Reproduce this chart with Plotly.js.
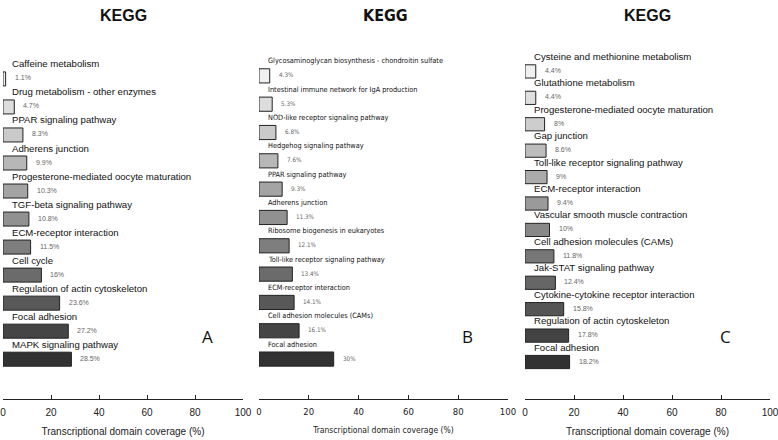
<!DOCTYPE html>
<html>
<head>
<meta charset="utf-8">
<script src="https://cdn.plot.ly/plotly-3.0.1.min.js"></script>
<style>html,body{margin:0;padding:0;background:#fff;}#chart{width:778px;height:440px;}</style>
</head>
<body>
<div id="chart"></div>
<script>
// ---- Data ----
const pathwaysA = ["Caffeine metabolism","Drug metabolism - other enzymes","PPAR signaling pathway","Adherens junction","Progesterone-mediated oocyte maturation","TGF-beta signaling pathway","ECM-receptor interaction","Cell cycle","Regulation of actin cytoskeleton","Focal adhesion","MAPK signaling pathway"];
const coverageA = [1.1, 4.7, 8.3, 9.9, 10.3, 10.8, 11.5, 16, 23.6, 27.2, 28.5];

const pathwaysB = ["Glycosaminoglycan biosynthesis - chondroitin sulfate","Intestinal immune network for IgA production","NOD-like receptor signaling pathway","Hedgehog signaling pathway","PPAR signaling pathway","Adherens junction","Ribosome biogenesis in eukaryotes","Toll-like receptor signaling pathway","ECM-receptor interaction","Cell adhesion molecules (CAMs)","Focal adhesion"];
const coverageB = [4.3, 5.3, 6.8, 7.6, 9.3, 11.3, 12.1, 13.4, 14.1, 16.1, 30];

const pathwaysC = ["Cysteine and methionine metabolism","Glutathione metabolism","Progesterone-mediated oocyte maturation","Gap junction","Toll-like receptor signaling pathway","ECM-receptor interaction","Vascular smooth muscle contraction","Cell adhesion molecules (CAMs)","Jak-STAT signaling pathway","Cytokine-cytokine receptor interaction","Regulation of actin cytoskeleton","Focal adhesion"];
const coverageC = [4.4, 4.4, 8, 8.6, 9, 9.4, 10, 11.8, 12.4, 15.8, 17.8, 18.2];

const panelLetters = ["A", "B", "C"];
const panelTitle = "KEGG";
const axisTitle = "Transcriptional domain coverage (%)";
const tickVals = [0, 20, 40, 60, 80, 100];

// ---- Styles ----
const W = 778, H = 440;
const SANS = "Liberation Sans, Arial, sans-serif";
const NARROW = "DejaVu Sans Condensed, Liberation Sans Narrow, Arial Narrow, sans-serif";
const panels = [
  {names: pathwaysA, vals: coverageA, px: [3, 243], yr: [-1.42, 11.21], font: SANS, lab: 9.6, pct: 7, tick: 10, ttl: 10, titleX: 123, letterX: 208},
  {names: pathwaysB, vals: coverageB, px: [259, 508], yr: [-1.41, 11.09], font: NARROW, lab: 7.3, pct: 6.3, tick: 9.5, ttl: 8.5, titleX: 385, letterX: 468},
  {names: pathwaysC, vals: coverageC, px: [525, 770], yr: [-1.40, 12.0], font: SANS, lab: 9.6, pct: 7, tick: 10, ttl: 10, titleX: 647, letterX: 725}
];

function grey(i, n) {
  const v = Math.round(240 - (240 - 50) * (i / (n - 1)));
  return `rgb(${v},${v},${v})`;
}

const traces = [];
const annotations = [];
const layout = {
  width: W, height: H,
  margin: {l: 0, r: 0, t: 45, b: 41},
  paper_bgcolor: "#fff", plot_bgcolor: "#fff",
  showlegend: false
};
const plotTop = layout.margin.t, plotH = H - layout.margin.t - layout.margin.b;
const paperY = px => 1 - (px - plotTop) / plotH;

panels.forEach((p, k) => {
  const n = p.names.length;
  const sfx = k === 0 ? "" : String(k + 1);
  const pos = p.names.map((_, i) => n - 1 - i);
  traces.push({
    type: "bar", orientation: "h",
    x: p.vals, y: pos,
    xaxis: "x" + sfx, yaxis: "y" + sfx,
    width: 0.5,
    marker: {color: p.names.map((_, i) => grey(i, n)), line: {color: "#222", width: 1}},
    hoverinfo: "skip"
  });
  layout["xaxis" + sfx] = {
    domain: [p.px[0] / W, p.px[1] / W],
    anchor: "y" + sfx,
    range: [0, 100],
    tickvals: tickVals, ticktext: tickVals.map(String),
    ticks: "inside", ticklen: 4, tickcolor: "#222",
    ticklabeloverflow: "allow", ticklabelstandoff: 4,
    showline: true, linecolor: "#222", linewidth: 1,
    showgrid: false, zeroline: false,
    tickfont: {family: p.font, size: p.tick, color: "#222"},
    title: {text: axisTitle, font: {family: p.font, size: p.ttl, color: "#222"}, standoff: 10}
  };
  layout["yaxis" + sfx] = {
    anchor: "x" + sfx,
    range: p.yr, visible: false, fixedrange: true
  };
  p.names.forEach((name, i) => {
    annotations.push({
      xref: "x" + sfx, yref: "y" + sfx, x: 0, y: pos[i],
      xshift: 7, yshift: 15, xanchor: "left", yanchor: "middle",
      text: name, showarrow: false,
      font: {family: p.font, size: p.lab, color: "#111"}
    });
    annotations.push({
      xref: "x" + sfx, yref: "y" + sfx, x: p.vals[i], y: pos[i],
      xshift: 7, yshift: 1, xanchor: "left", yanchor: "middle",
      text: p.vals[i] + "%", showarrow: false,
      font: {family: p.font, size: p.pct, color: "#666"}
    });
  });
  annotations.push({
    xref: "paper", yref: "paper", x: p.titleX / W, y: paperY(16),
    yanchor: "middle", xanchor: "center",
    text: "<b>" + panelTitle + "</b>", showarrow: false,
    font: {family: k === 1 ? NARROW : SANS, size: 16, color: "#111"}
  });
  annotations.push({
    xref: "paper", yref: "paper", x: p.letterX / W, y: paperY(336),
    yanchor: "middle", xanchor: "center",
    text: panelLetters[k], showarrow: false,
    font: {family: "Open Sans, Liberation Sans, sans-serif", size: 17, color: "#111"}
  });
});
layout.annotations = annotations;

Plotly.newPlot("chart", traces, layout, {displayModeBar: false, staticPlot: true});
</script>
</body>
</html>
